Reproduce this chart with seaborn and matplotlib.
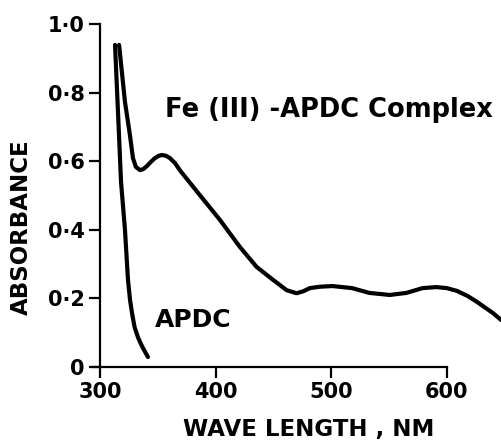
import matplotlib
matplotlib.use("Agg")
import matplotlib.pyplot as plt
import seaborn as sns
import pandas as pd

wl_apdc = [313, 315.6, 318.2, 321.6, 324.2, 326, 327.7, 330, 332.8, 335, 337.2, 341.5]
abs_apdc = [0.939, 0.741, 0.539, 0.40, 0.254, 0.195, 0.157, 0.115, 0.087, 0.07, 0.055, 0.029]

wl_fe = [316.5, 321.6, 325.9, 328.5, 331.1, 334.6, 337.5, 340.6, 344, 347.5, 351, 353.6, 357,
         360.5, 365, 369, 386.4, 403.7, 421, 435.4, 449.7, 461.4, 470, 476, 481.5, 490, 501,
         518, 533, 550.6, 565, 579, 591, 600, 608.6, 618, 626, 640, 647]
abs_fe = [0.939, 0.773, 0.676, 0.609, 0.583, 0.574, 0.577, 0.586, 0.598, 0.609, 0.616, 0.618, 0.616,
          0.609, 0.594, 0.574, 0.501, 0.429, 0.35, 0.292, 0.254, 0.224, 0.215, 0.221, 0.23, 0.234, 0.236,
          0.23, 0.216, 0.21, 0.216, 0.23, 0.233, 0.23, 0.222, 0.207, 0.19, 0.157, 0.137]

xticks = [300, 400, 500, 600]
yticks = [0, 0.2, 0.4, 0.6, 0.8, 1.0]
yticklabels = ["0", "0·2", "0·4", "0·6", "0·8", "1·0"]

sns.set_theme(style="white")
plt.rcParams["font.family"] = ["DejaVu Sans"]
plt.rcParams["font.weight"] = "bold"
plt.rcParams["text.color"] = "black"
plt.rcParams["axes.labelcolor"] = "black"
plt.rcParams["xtick.color"] = "black"
plt.rcParams["ytick.color"] = "black"

fig = plt.figure(figsize=(5.01, 4.41), dpi=100)
ax = fig.add_axes([100 / 501, 74 / 441, 400 / 501, 343 / 441])

df_apdc = pd.DataFrame({"wl": wl_apdc, "abs": abs_apdc})
df_fe = pd.DataFrame({"wl": wl_fe, "abs": abs_fe})
sns.lineplot(data=df_apdc, x="wl", y="abs", color="black", linewidth=3.0, ax=ax,
             clip_on=False, solid_joinstyle="round", solid_capstyle="round")
sns.lineplot(data=df_fe, x="wl", y="abs", color="black", linewidth=3.0, ax=ax,
             clip_on=False, solid_joinstyle="round", solid_capstyle="round")

ax.set_xlim(300, 646)
ax.set_ylim(0, 1.0)

for s in ["top", "right"]:
    ax.spines[s].set_visible(False)
for s in ["left", "bottom"]:
    ax.spines[s].set_color("black")
    ax.spines[s].set_linewidth(1.6)
ax.spines["bottom"].set_bounds(294, 600)
ax.spines["left"].set_bounds(0, 1.0)

ax.set_xticks(xticks)
ax.set_xticklabels([str(t) for t in xticks], fontsize=15, fontweight="bold")
ax.set_yticks(yticks)
ax.set_yticklabels(yticklabels, fontsize=15, fontweight="bold")
ax.tick_params(axis="both", direction="out", length=8, width=1.6, color="black", pad=3,
               bottom=True, left=True)

ax.set_xlabel("WAVE LENGTH , NM", fontsize=16.5, fontweight="bold")
ax.xaxis.set_label_coords(0.5225, -0.15)
ax.set_ylabel("ABSORBANCE", fontsize=16.5, fontweight="bold")
ax.yaxis.set_label_coords(-0.1675, 0.408)

ax.text(356, 0.75, "Fe (III) -APDC Complex", fontsize=18.5, fontweight="bold", va="center", ha="left")
ax.text(347.5, 0.137, "APDC", fontsize=18, fontweight="bold", va="center", ha="left")

fig.savefig("out.png", dpi=100, facecolor="white")
